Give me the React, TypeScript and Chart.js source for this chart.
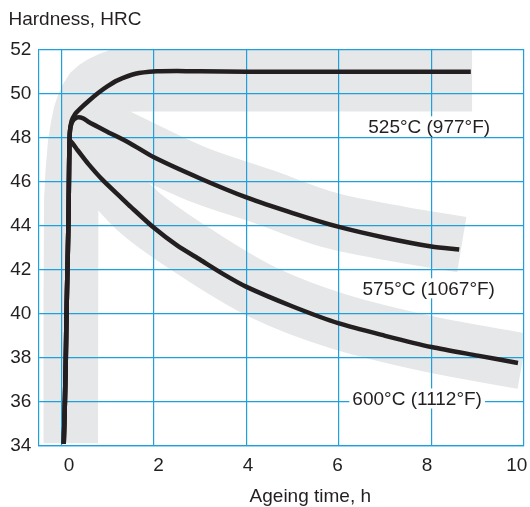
import React, { useEffect, useRef } from 'react';
import { Chart, registerables } from 'chart.js';

Chart.register(...registerables);

const FONT = '"Liberation Sans", Arial, Helvetica, sans-serif';
const INK = '#231f20';
const GRID = '#1ea0dc';
const BAND = '#e6e7e8';

// Axis ticks
const timeTicks = [0, 2, 4, 6, 8, 10];
const hardnessTicks = [34, 36, 38, 40, 42, 44, 46, 48, 50, 52];

// Common rise from the as-quenched state (shared by all three curves)
const stemTime = [0.05, 0.075, 0.095, 0.11, 0.13, 0.15, 0.162, 0.17];
const stemHardness = [34.1, 36, 38, 40, 42, 44, 46, 47.3];

// 525 °C curve
const time525 = [0.18, 0.22, 0.3, 0.4, 0.6, 0.8, 1.0, 1.2, 1.6, 2.06, 2.5, 3, 4, 6, 8, 8.85];
const hardness525 = [48.2, 48.75, 49.08, 49.3, 49.68, 50.03, 50.33, 50.58, 50.89, 51.0, 51.02, 51.0, 50.98, 50.98, 50.98, 50.98];

// 575 °C curve
const time575 = [0.18, 0.23, 0.33, 0.47, 0.58, 1.0, 1.48, 2.0, 3.0, 4.0, 5.0, 6.0, 7.0, 8.0, 8.6];
const hardness575 = [48.2, 48.7, 48.9, 48.87, 48.71, 48.25, 47.74, 47.1, 46.14, 45.28, 44.57, 43.94, 43.45, 43.05, 42.92];

// 600 °C curve
const time600 = [0.186, 0.35, 0.58, 0.9, 1.3, 1.5, 2.0, 2.5, 3.0, 3.5, 4.0, 5, 6, 7, 8, 9, 9.87];
const hardness600 = [47.85, 47.42, 46.8, 46.05, 45.25, 44.85, 43.9, 43.1, 42.45, 41.8, 41.22, 40.33, 39.56, 39.0, 38.49, 38.1, 37.77];

// Scatter bands (grey) behind the curves
const band525Time = [-0.397, -0.387, -0.376, -0.343, -0.289, -0.225, -0.16, -0.074, 0.035, 0.186, 0.38, 0.575, 0.812, 1.05, 1.309, 1.698, 8.877, 8.877, 1.698, 1.266, 1.007, 0.855, 0.801, 0.791, 0.791, -0.397];
const band525Hardness = [34.13, 40.6, 45.16, 46.52, 47.88, 48.7, 49.38, 49.93, 50.42, 50.92, 51.29, 51.55, 51.79, 51.97, 52.15, 52.33, 52.33, 49.18, 49.18, 49.15, 49.02, 48.75, 48.24, 46.97, 34.13, 34.13];
const band575Time = [0.4, 1.48, 2.93, 4.36, 5.8, 7.31, 8.655];
const band575Hardness = [48.88, 47.77, 46.34, 45.32, 44.25, 43.61, 43.14];
const band600Time = [0.229, 0.834, 1.7, 2.99, 4.4, 5.98, 7.96, 9.97];
const band600Hardness = [47.88, 46.52, 44.57, 42.66, 40.93, 39.66, 38.62, 37.85];

// Curve annotations
const curveLabels = ['525°C (977°F)', '575°C (1067°F)', '600°C (1112°F)'];
const labelTime = [7.95, 7.94, 7.69];
const labelHardness = [48.46, 41.11, 36.11];

const yTitle = 'Hardness, HRC';
const xTitle = 'Ageing time, h';

const pts = (xs: number[], ys: number[]) => xs.map((x, i) => ({ x, y: ys[i] }));

const curve = (label: string, xs: number[], ys: number[]) => ({
  label,
  role: 'curve',
  data: pts([...stemTime, ...xs], [...stemHardness, ...ys]),
  borderColor: INK,
  borderWidth: 4.5,
  borderCapStyle: 'butt',
  borderJoinStyle: 'round',
  tension: 0.25,
  pointRadius: 0,
  fill: false,
});

const bandStroke = (label: string, xs: number[], ys: number[], width: number) => ({
  label,
  role: 'band',
  data: pts(xs, ys),
  borderColor: BAND,
  borderWidth: width,
  borderCapStyle: 'butt',
  borderJoinStyle: 'round',
  tension: 0.35,
  pointRadius: 0,
  fill: false,
  clip: 0,
});

const layerPlugin = {
  id: 'layers',
  beforeDatasetDraw(chart: any, args: any) {
    const ds = chart.data.datasets[args.index];
    if (ds.role === 'curve') return false;
    return true;
  },
  afterDraw(chart: any) {
    const { ctx, chartArea: a } = chart;
    ctx.save();
    ctx.beginPath();
    ctx.rect(a.left, a.top, a.right - a.left, a.bottom - a.top);
    ctx.clip();
    chart.data.datasets.forEach((ds: any, i: number) => {
      if (ds.role === 'curve') chart.getDatasetMeta(i).controller.draw();
    });
    ctx.restore();

    const xs = chart.scales.x;
    const ys = chart.scales.y;
    ctx.save();
    ctx.font = `19px ${FONT}`;
    ctx.textAlign = 'center';
    ctx.textBaseline = 'middle';
    curveLabels.forEach((t, i) => {
      const px = xs.getPixelForValue(labelTime[i]);
      const py = ys.getPixelForValue(labelHardness[i]);
      const w = ctx.measureText(t).width;
      ctx.fillStyle = '#ffffff';
      ctx.fillRect(px - w / 2 - 3, py - 11, w + 6, 20);
      ctx.fillStyle = INK;
      ctx.fillText(t, px, py + 0.5);
    });
    ctx.fillStyle = INK;
    ctx.fillText(xTitle, a.left + 272, 497);
    ctx.restore();
  },
};

const setTicks = (list: number[]) => (scale: any) => {
  scale.ticks = list.map((v) => ({ value: v }));
};

export default function App() {
  const ref = useRef<HTMLCanvasElement>(null);

  useEffect(() => {
    if (!ref.current) return;
    const chart = new Chart(ref.current, {
      type: 'line',
      data: {
        datasets: [
          curve('525°C (977°F)', time525, hardness525),
          curve('575°C (1067°F)', time575, hardness575),
          curve('600°C (1112°F)', time600, hardness600),
          bandStroke('band 575', band575Time, band575Hardness, 56),
          bandStroke('band 600', band600Time, band600Hardness, 56),
          {
            label: 'band 525',
            role: 'band',
            data: pts(band525Time, band525Hardness),
            borderColor: 'rgba(0,0,0,0)',
            borderWidth: 1,
            backgroundColor: BAND,
            fill: 'shape',
            tension: 0,
            pointRadius: 0,
            clip: 0,
          },
        ] as any,
      },
      options: {
        responsive: false,
        animation: false,
        events: [],
        layout: { padding: { left: 8.5, right: 6, top: 0, bottom: 0 } },
        plugins: {
          legend: { display: false },
          tooltip: { enabled: false },
          title: {
            display: true,
            text: yTitle,
            align: 'start',
            color: INK,
            font: { family: FONT, size: 19, weight: 'normal', lineHeight: 1.2 },
            padding: { top: 8.6, bottom: 17.9 },
          },
        },
        scales: {
          x: {
            type: 'linear',
            min: -0.5,
            max: 10,
            afterBuildTicks: setTicks(timeTicks),
            ticks: { display: false },
            grid: { color: GRID, lineWidth: 1.2, drawTicks: false, z: 1 },
            border: { color: GRID, width: 1.2, z: 1 },
            afterFit: (s: any) => {
              s.height = 0;
              s.paddingLeft = 0;
              s.paddingRight = 0;
            },
          },
          xLabels: {
            type: 'linear',
            position: 'bottom',
            weight: 1,
            min: -0.685,
            max: 10.163,
            afterBuildTicks: setTicks(timeTicks),
            grid: { display: false, drawTicks: false },
            border: { display: false },
            ticks: { padding: 8, color: INK, font: { family: FONT, size: 19, lineHeight: 1.2 } },
            afterFit: (s: any) => {
              s.height = 61;
              s.paddingLeft = 0;
              s.paddingRight = 0;
            },
          },
          y: {
            type: 'linear',
            min: 34,
            max: 52,
            afterBuildTicks: setTicks(hardnessTicks),
            grid: { color: GRID, lineWidth: 1.2, drawTicks: false, z: 1 },
            border: { color: GRID, width: 1.2, z: 1 },
            ticks: { padding: 7, color: INK, font: { family: FONT, size: 19, lineHeight: 1.2 } },
            afterFit: (s: any) => {
              s.width = 29.8;
              s.paddingTop = 0;
              s.paddingBottom = 0;
            },
          },
        } as any,
      },
      plugins: [layerPlugin as any],
    });
    return () => chart.destroy();
  }, []);

  return (
    <div style={{ position: 'absolute', left: 0, top: 0, width: 530, height: 507, background: '#ffffff' }}>
      <canvas ref={ref} width={530} height={507} style={{ display: 'block' }} />
    </div>
  );
}
